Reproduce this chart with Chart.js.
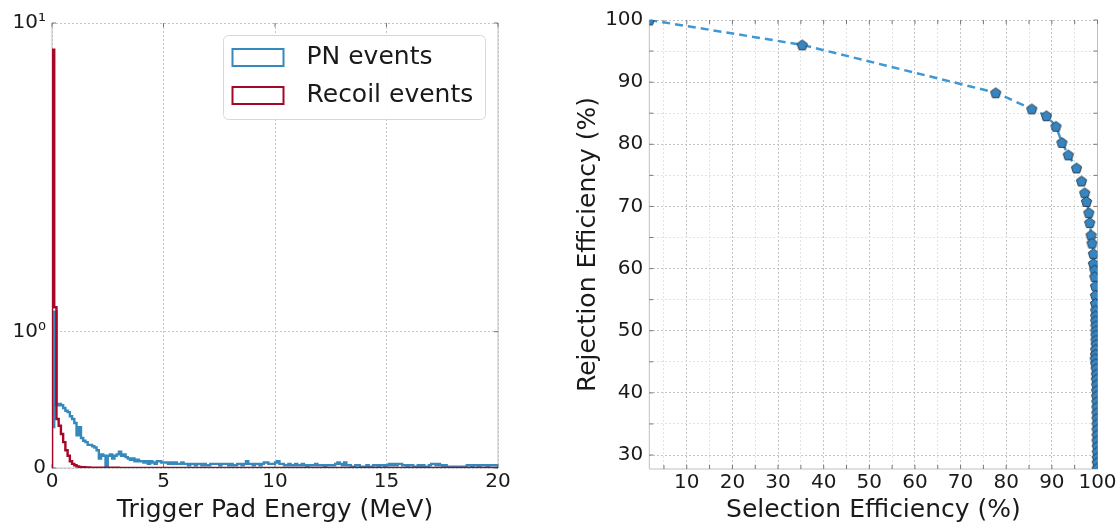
<!DOCTYPE html>
<html lang="en">
<head>
<meta charset="UTF-8">
<title>Trigger Pad Energy and Selection vs Rejection Efficiency</title>
<script src="https://cdn.jsdelivr.net/npm/chart.js"></script>
<style>
  body { margin: 0; background: #fff; }
  #wrap { position: relative; width: 1120px; height: 527px; }
  canvas { position: absolute; top: 0; }
  #histChart { left: 0; }
  #effChart { left: 560px; }
</style>
</head>
<body>
<div id="wrap">
  <canvas id="histChart" width="540" height="527"></canvas>
  <canvas id="effChart" width="560" height="527"></canvas>
</div>
<script>
// ---- histogram data: 200 bins of 0.1 MeV from 0 to 20 MeV ----
const binWidth = 0.1;
const energyMax = 20;

const pnCounts = [
  0.30, 1.16, 0.46, 0.47, 0.46, 0.44, 0.42, 0.41, 0.38, 0.36, 0.33, 0.24, 0.30, 0.22, 0.20, 0.19, 0.17, 0.17, 0.16, 0.15,
  0.13, 0.07, 0.10, 0.09, 0.01, 0.09, 0.10, 0.07, 0.09, 0.10, 0.12, 0.09, 0.10, 0.08, 0.07, 0.06, 0.07, 0.05, 0.06, 0.05,
  0.05, 0.04, 0.05, 0.03, 0.05, 0.04, 0.03, 0.05, 0.05, 0.04, 0.04, 0.04, 0.03, 0.04, 0.03, 0.04, 0.03, 0.03, 0.04, 0.03,
  0.03, 0.02, 0.03, 0.03, 0.02, 0.03, 0.03, 0.02, 0.03, 0.02, 0.02, 0.03, 0.03, 0.03, 0.03, 0.02, 0.03, 0.03, 0.03, 0.02,
  0.03, 0.02, 0.02, 0.03, 0.03, 0.02, 0.03, 0.05, 0.03, 0.03, 0.02, 0.03, 0.03, 0.02, 0.03, 0.04, 0.04, 0.03, 0.03, 0.03,
  0.04, 0.05, 0.03, 0.03, 0.02, 0.02, 0.03, 0.02, 0.02, 0.03, 0.02, 0.02, 0.03, 0.02, 0.01, 0.02, 0.02, 0.02, 0.03, 0.02,
  0.02, 0.02, 0.01, 0.02, 0.02, 0.02, 0.02, 0.03, 0.04, 0.03, 0.02, 0.04, 0.02, 0.02, 0.01, 0.01, 0.02, 0.02, 0.01, 0.01,
  0.01, 0.02, 0.01, 0.01, 0.02, 0.02, 0.01, 0.02, 0.02, 0.01, 0.02, 0.03, 0.02, 0.03, 0.02, 0.03, 0.03, 0.02, 0.02, 0.01,
  0.02, 0.02, 0.01, 0.01, 0.02, 0.01, 0.02, 0.01, 0.01, 0.02, 0.03, 0.03, 0.02, 0.03, 0.02, 0.01, 0.02, 0.01, 0.01, 0.01,
  0.01, 0.01, 0.00, 0.01, 0.00, 0.01, 0.02, 0.02, 0.01, 0.02, 0.02, 0.01, 0.02, 0.02, 0.02, 0.01, 0.02, 0.02, 0.02, 0.02
];

const recoilCounts = [
  8.2, 1.2, 0.36, 0.31, 0.25, 0.19, 0.13, 0.09, 0.05, 0.03, 0.02, 0.012, 0.008, 0.006, 0.005, 0.004, 0.004, 0.003, 0.003, 0.003,
  0.002, 0.002, 0.002, 0.002, 0.002, 0.002, 0.002, 0.002, 0.002, 0.002, 0.001, 0.001, 0.001, 0.001, 0.001, 0.001, 0.001, 0.001, 0.001, 0.001,
  0.001, 0.001, 0.001, 0.001, 0.001, 0.001, 0.001, 0.001, 0.001, 0.001, 0.001, 0.001, 0.001, 0.001, 0.001, 0.001, 0.001, 0.001, 0.001, 0.001,
  0.001, 0.001, 0.001, 0.001, 0.001, 0.001, 0.001, 0.001, 0.001, 0.001, 0, 0, 0, 0, 0, 0, 0, 0, 0, 0,
  0, 0, 0, 0, 0, 0, 0, 0, 0, 0, 0, 0, 0, 0, 0, 0, 0, 0, 0, 0,
  0, 0, 0, 0, 0, 0, 0, 0, 0, 0, 0, 0, 0, 0, 0, 0, 0, 0, 0, 0,
  0, 0, 0, 0, 0, 0, 0, 0, 0, 0, 0, 0, 0, 0, 0, 0, 0, 0, 0, 0,
  0, 0, 0, 0, 0, 0, 0, 0, 0, 0, 0, 0, 0, 0, 0, 0, 0, 0, 0, 0,
  0, 0, 0, 0, 0, 0, 0, 0, 0, 0, 0, 0, 0, 0, 0, 0, 0, 0, 0, 0,
  0, 0, 0, 0, 0, 0, 0, 0, 0, 0, 0, 0, 0, 0, 0, 0, 0, 0, 0, 0
];

const energyTicks = [0, 5, 10, 15, 20];
const countTicks = [0, 1, 10];
const countTickLabels = ['0', '10\u2070', '10\u00b9'];

// ---- selection vs rejection efficiency (%) ----
const selEff = [
  1.8, 35.3, 77.7, 85.6, 88.8, 90.9, 92.2, 93.6, 95.4, 96.5, 97.2, 97.6, 98.1, 98.3, 98.6, 98.8,
  99.1, 99.1, 99.4, 99.4, 99.55, 99.55, 99.55,
  99.6, 99.6, 99.6, 99.65, 99.65, 99.65, 99.65, 99.7, 99.6, 99.55, 99.5, 99.6, 99.7, 99.75, 99.75,
  99.8, 99.8, 99.8, 99.85, 99.85, 99.85, 99.9, 99.9, 99.9, 99.9, 99.9, 99.95, 99.95, 99.95, 99.95, 99.95
];
const rejEff = [
  100.0, 96.0, 88.3, 85.7, 84.6, 82.9, 80.3, 78.3, 76.2, 74.1, 72.2, 70.8, 69.0, 67.4, 65.4, 64.1,
  62.4, 60.8, 59.8, 58.7, 57.2, 55.7, 54.4,
  53.3, 52.4, 51.6, 50.8, 50.0, 49.3, 48.5, 47.8, 47.0, 46.2, 45.5, 44.7, 43.9, 43.0, 42.2,
  41.3, 40.4, 39.5, 38.6, 37.7, 36.8, 35.9, 35.0, 34.1, 33.2, 32.3, 31.4, 30.5, 29.6, 28.8, 27.9
];
const selMin = 1.79, selMax = 100;
const rejMin = 27.75, rejMax = 100;

const PN_COLOR = '#348ABD';
const RECOIL_COLOR = '#A60628';
const FONT = '"DejaVu Sans", "Liberation Sans", sans-serif';

Chart.defaults.font.family = FONT;
Chart.defaults.color = '#1a1a1a';

// symmetric log axis: linear between 0 and 1, logarithmic above
const LIN_SPAN = 0.4415;
const symlog = v => v <= 1 ? v * LIN_SPAN : LIN_SPAN + Math.log10(v);

class SymlogScale extends Chart.LinearScale {
  static id = 'symlog';
  buildTicks() {
    return countTicks.map(v => ({ value: v }));
  }
  configure() {
    super.configure();
    this._t0 = symlog(this.min);
    this._t1 = symlog(this.max);
  }
  getPixelForValue(value) {
    if (value === null || value === undefined) return NaN;
    return this.getPixelForDecimal((symlog(value) - this._t0) / (this._t1 - this._t0));
  }
  getValueForPixel(pixel) {
    const t = this._t0 + this.getDecimalForPixel(pixel) * (this._t1 - this._t0);
    return t <= LIN_SPAN ? t / LIN_SPAN : Math.pow(10, t - LIN_SPAN);
  }
}
Chart.register(SymlogScale);

// axis frame with small inward ticks
const framePlugin = {
  id: 'frame',
  beforeDatasetsDraw(chart, args, opts) {
    const { ctx, chartArea: a, scales } = chart;
    ctx.save();
    ctx.lineWidth = 1;
    ctx.strokeStyle = opts.color;
    ctx.beginPath();
    ctx.moveTo(a.left, a.top);
    ctx.lineTo(a.left, a.bottom);
    ctx.lineTo(a.right, a.bottom);
    ctx.lineTo(a.right, a.top);
    ctx.stroke();
    const len = opts.tickLength;
    ctx.strokeStyle = opts.tickColor;
    ctx.beginPath();
    scales.y.ticks.forEach(t => {
      const py = scales.y.getPixelForValue(t.value);
      ctx.moveTo(a.right, py); ctx.lineTo(a.right - len, py);
      ctx.moveTo(a.left, py); ctx.lineTo(a.left + len, py);
    });
    scales.x.ticks.forEach(t => {
      const px = scales.x.getPixelForValue(t.value);
      ctx.moveTo(px, a.top); ctx.lineTo(px, a.top + len);
      ctx.moveTo(px, a.bottom); ctx.lineTo(px, a.bottom - len);
    });
    ctx.stroke();
    ctx.restore();
  }
};

// legend box drawn inside the plot, outlined patches like a step histogram
const boxLegend = {
  id: 'boxLegend',
  afterDraw(chart, args, opts) {
    const { ctx } = chart;
    const { x, y, w, h } = opts.box;
    ctx.save();
    ctx.beginPath();
    ctx.roundRect(x, y, w, h, 5);
    ctx.fillStyle = 'rgba(255,255,255,0.9)';
    ctx.fill();
    ctx.strokeStyle = '#d8d8d8';
    ctx.lineWidth = 1;
    ctx.stroke();
    ctx.font = '25px ' + FONT;
    ctx.textBaseline = 'middle';
    ctx.fillStyle = '#1a1a1a';
    chart.data.datasets.forEach((ds, i) => {
      const rowY = y + opts.firstRow + i * opts.rowGap;
      ctx.strokeStyle = ds.borderColor;
      ctx.lineWidth = 2;
      ctx.strokeRect(x + 9, rowY - 8.5, 51, 17);
      ctx.fillText(ds.label, x + 83, rowY);
    });
    ctx.restore();
  }
};

function stepPoints(counts) {
  const pts = [{ x: 0, y: 0 }];
  counts.forEach((c, i) => pts.push({ x: i * binWidth, y: c }));
  pts.push({ x: energyMax, y: counts[counts.length - 1] });
  pts.push({ x: energyMax, y: 0 });
  return pts;
}

const tickFont = { size: 20 };
const titleFont = { size: 25 };
const majorGrid = '#c4c4c4';
const minorGrid = '#e2e2e2';

new Chart(document.getElementById('histChart'), {
  type: 'line',
  data: {
    datasets: [
      { label: 'PN events', data: stepPoints(pnCounts), borderColor: PN_COLOR, borderWidth: 2.4,
        stepped: true, pointRadius: 0, fill: false, order: 1 },
      { label: 'Recoil events', data: stepPoints(recoilCounts), borderColor: RECOIL_COLOR, borderWidth: 2.4,
        stepped: true, pointRadius: 0, fill: false, order: 0 }
    ]
  },
  options: {
    responsive: false,
    animation: false,
    devicePixelRatio: 1,
    layout: { padding: { left: 0, right: 42, top: 23, bottom: 0 } },
    plugins: {
      legend: { display: false },
      tooltip: { enabled: false },
      frame: { color: '#c0c0c0', tickColor: '#777', tickLength: 4 },
      boxLegend: { box: { x: 223.5, y: 35.5, w: 262, h: 84 }, firstRow: 22, rowGap: 38 }
    },
    scales: {
      x: {
        type: 'linear', min: 0, max: energyMax,
        afterBuildTicks: s => { s.ticks = energyTicks.map(v => ({ value: v })); },
        afterFit: s => { s.height = 59; },
        grid: { color: majorGrid, lineWidth: 1, drawTicks: false },
        border: { display: false, dash: [2, 2] },
        ticks: { font: tickFont, padding: 2, autoSkip: false, maxRotation: 0 },
        title: { display: true, text: 'Trigger Pad Energy (MeV)', font: titleFont, padding: { top: 0, bottom: 2 } }
      },
      y: {
        type: 'symlog', min: 0, max: 10,
        afterFit: s => { s.width = 52; },
        grid: { color: majorGrid, lineWidth: 1, drawTicks: false },
        border: { display: false, dash: [2, 2] },
        ticks: { font: tickFont, padding: 6, autoSkip: false,
                 callback: v => countTickLabels[countTicks.indexOf(v)] }
      }
    }
  },
  plugins: [framePlugin, boxLegend]
});

// pentagon marker used for the efficiency points
function pentagonMarker(r, fill, edge) {
  const c = document.createElement('canvas');
  const s = Math.ceil(r * 2 + 4);
  c.width = c.height = s;
  const g = c.getContext('2d');
  g.beginPath();
  for (let k = 0; k < 5; k++) {
    const ang = -Math.PI / 2 + k * 2 * Math.PI / 5;
    const px = s / 2 + r * Math.cos(ang);
    const py = s / 2 + r * Math.sin(ang) + r * 0.1;
    if (k === 0) g.moveTo(px, py); else g.lineTo(px, py);
  }
  g.closePath();
  g.fillStyle = fill;
  g.fill();
  g.lineWidth = 1;
  g.strokeStyle = edge;
  g.stroke();
  return c;
}

const effPoints = selEff.map((s, i) => ({ x: s, y: rejEff[i] }));
const gridColor = ctx => ctx.tick && ctx.tick.value % 10 === 0 ? majorGrid : minorGrid;

new Chart(document.getElementById('effChart'), {
  type: 'line',
  data: {
    datasets: [{
      label: 'efficiency',
      data: effPoints,
      borderColor: '#3f97d4',
      borderWidth: 2.5,
      borderDash: [8, 5],
      pointStyle: pentagonMarker(5.4, '#3585c2', '#2c3e50'),
      pointRadius: 5,
      fill: false,
      tension: 0
    }]
  },
  options: {
    responsive: false,
    animation: false,
    devicePixelRatio: 1,
    layout: { padding: { left: 0, right: 22.5, top: 20, bottom: 0 } },
    plugins: {
      legend: { display: false },
      tooltip: { enabled: false },
      frame: { color: '#c0c0c0', tickColor: '#777', tickLength: 4 }
    },
    scales: {
      x: {
        type: 'linear', min: selMin, max: selMax,
        afterFit: s => { s.height = 58; },
        grid: { color: gridColor, lineWidth: 1, drawTicks: false },
        border: { display: false, dash: [2, 2] },
        ticks: { stepSize: 5, includeBounds: false, autoSkip: false, maxRotation: 0, font: tickFont, padding: 2,
                 callback: v => v % 10 === 0 ? String(v) : '' },
        title: { display: true, text: 'Selection Efficiency (%)', font: titleFont, padding: { top: 0, bottom: 2 } }
      },
      y: {
        type: 'linear', min: rejMin, max: rejMax,
        afterFit: s => { s.width = 89.3; },
        grid: { color: gridColor, lineWidth: 1, drawTicks: false },
        border: { display: false, dash: [2, 2] },
        ticks: { stepSize: 5, includeBounds: false, autoSkip: false, font: tickFont, padding: 6,
                 callback: v => v % 10 === 0 ? String(v) : '' },
        title: { display: true, text: 'Rejection Efficiency (%)', font: titleFont, padding: { top: 13, bottom: 0 } }
      }
    }
  },
  plugins: [framePlugin]
});
</script>
</body>
</html>
